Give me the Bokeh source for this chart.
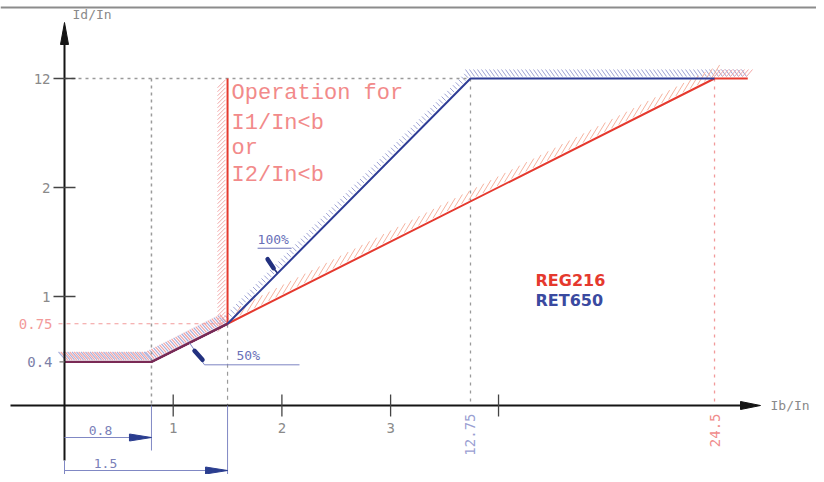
import numpy as np
from bokeh.plotting import figure
from bokeh.models import Range1d
from bokeh.core.properties import value
from bokeh.embed import file_html
from bokeh.resources import INLINE

# ---------------- data (Ib/In -> Id/In) ----------------
ret650_ib = [0.0, 0.8, 1.5, 12.75, 24.5]
ret650_id = [0.4, 0.4, 0.75, 12.0, 12.0]
reg216_ib = [0.0, 0.8, 1.5, 24.5, 26.1]
reg216_id = [0.4, 0.4, 0.75, 12.0, 12.0]
reg216_block_ib = [1.5, 1.5]
reg216_block_id = [0.75, 12.0]

x_tick_vals = [1, 2, 3, 14.1]
x_tick_labels = ["1", "2", "3", ""]
y_tick_vals = [1, 2, 12]
y_tick_labels = ["1", "2", "12"]
y_mark_vals = [0.75, 0.4]
y_mark_labels = ["0.75", "0.4"]
x_mark_vals = [12.75, 24.5]
x_mark_labels = ["12.75", "24.5"]
dim_vals = [0.8, 1.5]
dim_labels = ["0.8", "1.5"]
pct_labels = ["50%", "100%"]
legend_names = ["REG216", "RET650"]
op_text = ["Operation for", "I1/In<b", "or", "I2/In<b"]

# broken (schematic) scale breakpoints
x_break_val = [0.0, 3.0, 12.75, 24.5]
x_break_pos = [0.0, 3.0, 3.735, 5.98]
y_break_val = [0.0, 2.0, 12.0]
y_break_pos = [0.0, 2.0, 3.0]


def brk(v, bv, bp):
    v = np.asarray(v, float)
    out = np.interp(v, bv, bp)
    slope = (bp[-1] - bp[-2]) / (bv[-1] - bv[-2])
    hi = v > bv[-1]
    out[hi] = bp[-1] + (v[hi] - bv[-1]) * slope
    return out


def fx(v):
    return brk(v, x_break_val, x_break_pos)


def fy(v):
    return brk(v, y_break_val, y_break_pos)


# ---------------- figure ----------------
SX, SY = 108.7, 109.0
W, H = 816, 474
x0 = -64 / SX
y0 = -(H - 405) / SY
p = figure(width=W, height=H, x_range=Range1d(x0, x0 + W / SX),
           y_range=Range1d(y0, y0 + H / SY), output_backend="svg",
           toolbar_location=None, min_border=0, x_axis_type=None,
           y_axis_type=None, outline_line_color=None)
p.grid.visible = False
p.background_fill_color = "white"


def px(v):
    return v / SX


def py(v):
    return v / SY


NUM_FONT = value("DejaVu Sans Mono")
CAD_FONT = value("Liberation Mono")
RED = "#e5392e"
BLUE = "#2f3d96"
GRAY = "#9a9a9a"
PINK = "#f29a9a"
LBLUE = "#8088c4"

# top frame line
p.line([x0, x0 + W / SX], [py(405 - 7)] * 2, line_color="#8c8c8c", line_width=2)


# ---------------- hatching helper ----------------
def hatch(xs, ys, spacing, a, b, color, width=1.0, phase=0.0):
    X0, Y0, X1, Y1 = [], [], [], []
    for i in range(len(xs) - 1):
        ax, ay = xs[i] * SX, ys[i] * SY
        bx, by = xs[i + 1] * SX, ys[i + 1] * SY
        L = np.hypot(bx - ax, by - ay)
        ts = np.arange(phase, L, spacing) / L
        for t in ts:
            cx, cy = ax + t * (bx - ax), ay + t * (by - ay)
            X0.append((cx + a[0]) / SX)
            Y0.append((cy + a[1]) / SY)
            X1.append((cx + b[0]) / SX)
            Y1.append((cy + b[1]) / SY)
    p.segment(X0, Y0, X1, Y1, line_color=color, line_width=width)


rx, ry = fx(ret650_ib), fy(ret650_id)
gx, gy = fx(reg216_ib), fy(reg216_id)
bx_, by_ = fx(reg216_block_ib), fy(reg216_block_id)

# common part 0.4 plateau and 50% slope: mixed hatching
hatch(rx[:3], ry[:3], 4.5, (1, 2), (-6, 10), "#a9aedb", 1.2)
hatch(rx[:3], ry[:3], 4.5, (1, 2), (-6, 10), "#f2a3a3", 1.2, phase=2.2)
# red blocking vertical: hatch on the left
hatch(bx_, by_, 4.0, (-2, 0), (-10, -8), "#f3a8a8", 1.0)
# blue 100% slope and top: hatch above
hatch(rx[2:4], ry[2:4], 4.0, (-1.5, 1.5), (-5.5, 5.5), "#9ca1d4", 1.0)
hatch([rx[3], gx[4]], [ry[3], gy[4]], 4.0, (0, 2), (-5, 9), "#9ca1d4", 1.0)
# red slope: long hatch above
hatch(gx[2:4], gy[2:4], 8.0, (0, 2), (8, 15), "#f6b3a0", 1.0, phase=6)
hatch(gx[3:5], gy[3:5], 4.0, (0, 2), (6, 9), "#f3a8a8", 1.0)

# ---------------- guides ----------------
p.line([0, fx([12.75])[0]], [fy([12])[0]] * 2, line_color=GRAY, line_dash="3 4", line_width=1.5)
p.line([fx([0.8])[0]] * 2, [fy([12])[0], 0], line_color=GRAY, line_dash="3 4", line_width=1.5)
p.line([fx([1.5])[0]] * 2, [fy([0.75])[0], 0], line_color=GRAY, line_dash="4 4", line_width=1.2)
p.line([fx([12.75])[0]] * 2, [fy([12])[0], 0], line_color=GRAY, line_dash="3 5", line_width=1.3)
p.line([fx([24.5])[0]] * 2, [fy([12])[0], 0], line_color=PINK, line_dash="3 5", line_width=1.3)
p.line([-px(6), fx([1.5])[0]], [fy([0.75])[0]] * 2, line_color=PINK, line_dash="4 4", line_width=1.2)

# ---------------- curves ----------------
p.line(gx, gy, line_color=RED, line_width=2)
p.line(bx_, by_, line_color=RED, line_width=2)
p.line(rx, ry, line_color=BLUE, line_width=2)
p.line(rx[:3], ry[:3], line_color="#7a2a55", line_width=2.2)

# ---------------- axes ----------------
AXC = "#151515"
x_tip, y_tip = px(696), py(383)
p.line([-px(54), x_tip - px(16)], [0, 0], line_color=AXC, line_width=2)
p.line([0, 0], [-py(55), y_tip - py(16)], line_color=AXC, line_width=2)


def head(tx, ty, dx, dy, length, half, color):
    bxp, byp = tx * SX - dx * length, ty * SY - dy * length
    nx, ny = -dy, dx
    xs = [tx, (bxp + nx * half) / SX, (bxp - nx * half) / SX]
    ys = [ty, (byp + ny * half) / SY, (byp - ny * half) / SY]
    p.patch(xs, ys, fill_color=color, line_color=color, line_width=1)


head(x_tip, 0, 1, 0, 20, 4, AXC)
head(0, y_tip, 0, 1, 22, 4, AXC)

# ticks
xt = fx(x_tick_vals)
p.segment(xt, [-py(11)] * len(xt), xt, [py(11)] * len(xt), line_color="#444", line_width=1.3)
yt = fy(y_tick_vals)
p.segment([-px(11)] * len(yt), yt, [px(11)] * len(yt), yt, line_color="#444", line_width=1.3)
p.segment([-px(5)], fy([0.4]), [0], fy([0.4]), line_color="#777", line_width=1.2)

p.text(xt[:3], [-py(22)] * 3, text=x_tick_labels[:3], text_font=NUM_FONT,
       text_font_size=value("14px"), text_color="#8a8a8a", text_align="center",
       text_baseline="middle")
p.text([-px(14)] * len(yt), yt, text=y_tick_labels, text_font=NUM_FONT,
       text_font_size=value("14px"), text_color="#8a8a8a", text_align="right",
       text_baseline="middle")
ym = fy(y_mark_vals)
p.text([-px(12)] * 2, ym, text=y_mark_labels, text_font=NUM_FONT,
       text_font_size=value("14px"), text_color=[PINK, "#7c80a8"], text_align="right",
       text_baseline="middle")
xm = fx(x_mark_vals)
p.text(xm, [-py(8)] * 2, text=x_mark_labels, text_font=NUM_FONT,
       text_font_size=value("14px"), text_color=["#9aa0d2", "#f08c8c"], text_align="right",
       text_baseline="middle", angle=np.pi / 2)

p.text([px(8)], [y_tip + py(8)], text=["Id/In"], text_font=NUM_FONT,
       text_font_size=value("13px"), text_color="#8a8a8a", text_align="left",
       text_baseline="middle")
p.text([x_tip + px(10)], [0], text=["Ib/In"], text_font=NUM_FONT,
       text_font_size=value("13px"), text_color="#8a8a8a", text_align="left",
       text_baseline="middle")

# ---------------- dimension arrows ----------------
dx = fx(dim_vals)
dim_y = [-py(32), -py(65)]
p.line([0, 0], [-py(55), -py(69)], line_color=LBLUE, line_width=1)
p.segment([dx[0]], [0], [dx[0]], [-py(45)], line_color=LBLUE, line_width=1)
p.segment([dx[1]], [0], [dx[1]], [-py(69)], line_color=LBLUE, line_width=1)
p.segment([0, 0], dim_y, dx, dim_y, line_color=LBLUE, line_width=1)
for xv, yv in zip(dx, dim_y):
    head(xv, yv, 1, 0, 22, 3.5, "#2a3d8f")
p.text([px(36), px(41)], [dim_y[0] + py(3), dim_y[1] + py(3)], text=dim_labels,
       text_font=NUM_FONT, text_font_size=value("13px"), text_color="#7a80b8",
       text_align="center", text_baseline="bottom")

# ---------------- percentage pointers ----------------
a50x, a50y = (rx[1] + rx[2]) / 2, (ry[1] + ry[2]) / 2
p.line([a50x, a50x + px(15), a50x + px(110)],
       [a50y, a50y - py(22), a50y - py(22)], line_color="#7d84c2", line_width=1)
p.line([a50x + px(5), a50x + px(13)], [a50y - py(8), a50y - py(17)],
       line_color="#22307f", line_width=4.5, line_cap="round")
p.text([a50x + px(47)], [a50y - py(20)], text=[pct_labels[0]], text_font=NUM_FONT,
       text_font_size=value("13px"), text_color="#6970b8", text_align="left",
       text_baseline="bottom")

f = 0.206
a100x, a100y = rx[2] + f * (rx[3] - rx[2]), ry[2] + f * (ry[3] - ry[2])
p.line([a100x, a100x - px(5)], [a100y, a100y + py(6)], line_color="#22307f", line_width=1.5)
p.line([a100x - px(4), a100x - px(10)], [a100y + py(5), a100y + py(14)],
       line_color="#22307f", line_width=4.5, line_cap="round")
p.line([a100x - px(20), a100x + px(14)], [a100y + py(25)] * 2, line_color="#6970b8", line_width=1)
p.text([a100x - px(20)], [a100y + py(26)], text=[pct_labels[1]], text_font=NUM_FONT,
       text_font_size=value("13px"), text_color="#6970b8", text_align="left",
       text_baseline="bottom")

# ---------------- operation text ----------------
top = fy([12])[0]
op_y = [top - py(15), top - py(45), top - py(70), top - py(97)]
p.text([bx_[0] + px(4)] * 4, op_y, text=op_text, text_font=CAD_FONT,
       text_font_size=value("22px"), text_color="#f28a8a", text_align="left",
       text_baseline="middle")

# ---------------- legend labels ----------------
p.text([px(471)] * 2, [py(125), py(105)], text=legend_names,
       text_font=value("DejaVu Sans"), text_font_style="bold",
       text_font_size=value("16px"), text_color=[RED, "#3a4aa0"],
       text_align="left", text_baseline="middle")

open("out.html", "w").write(file_html(p, INLINE))
